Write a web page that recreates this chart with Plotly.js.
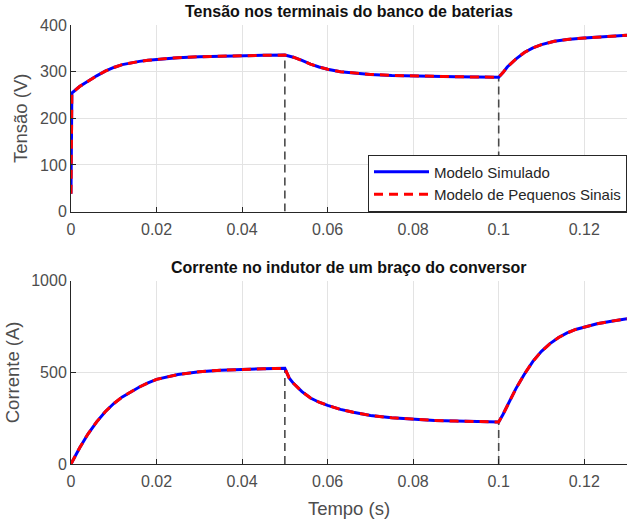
<!DOCTYPE html>
<html>
<head>
<meta charset="utf-8">
<script src="https://cdn.plot.ly/plotly-3.0.1.min.js"></script>
<style>html,body{margin:0;padding:0;background:#fff;overflow:hidden}#chart{width:627px;height:525px}</style>
</head>
<body>
<div id="chart"></div>
<script>
// ---- Data ----
const tV = [0, 0.0002, 0.002, 0.004, 0.006, 0.008, 0.010, 0.012, 0.014, 0.016, 0.018, 0.020, 0.025, 0.030, 0.035, 0.040, 0.045, 0.050,
            0.052, 0.054, 0.056, 0.058, 0.060, 0.063, 0.066, 0.070, 0.075, 0.080, 0.085, 0.090, 0.095, 0.100,
            0.101, 0.102, 0.104, 0.106, 0.108, 0.110, 0.113, 0.116, 0.120, 0.125, 0.130];
const tensao = [38, 254, 268, 280, 291, 301, 309, 315, 319, 322, 324.5, 326.5, 330, 332, 333.5, 334.5, 335, 335.5,
                331, 324, 316, 310, 305, 300, 297, 294, 292, 290.5, 289.5, 289, 288.5, 288,
                298, 310, 327, 341, 351, 358, 365, 369, 372, 375.5, 378];

const tI = [0, 0.002, 0.004, 0.006, 0.008, 0.010, 0.012, 0.014, 0.016, 0.018, 0.020, 0.025, 0.030, 0.035, 0.040, 0.045, 0.050,
            0.051, 0.052, 0.054, 0.056, 0.058, 0.060, 0.063, 0.066, 0.070, 0.075, 0.080, 0.085, 0.090, 0.095, 0.100,
            0.101, 0.102, 0.103, 0.104, 0.106, 0.108, 0.110, 0.112, 0.114, 0.116, 0.118, 0.120, 0.123, 0.126, 0.130];
const corrente = [0, 87, 165, 230, 285, 330, 366, 395, 420, 442, 462, 488, 503, 512, 517, 520, 522,
                  470, 440, 395, 360, 337, 320, 298, 282, 265, 252, 244, 238, 234, 231, 229,
                  270, 315, 362, 410, 490, 560, 615, 657, 690, 715, 734, 748, 765, 778, 792];

const eventTimes = [0.05, 0.1];
const xTicks = [0, 0.02, 0.04, 0.06, 0.08, 0.1, 0.12];
const xTickLabels = ['0', '0.02', '0.04', '0.06', '0.08', '0.1', '0.12'];
const vTicks = [0, 100, 200, 300, 400];
const iTicks = [0, 500, 1000];
const seriesNames = ['Modelo Simulado', 'Modelo de Pequenos Sinais'];
const titles = ['Tensão nos terminais do banco de baterias', 'Corrente no indutor de um braço do conversor'];

// ---- Build ----
function valueAt(ts, vs, t) {
  const i = ts.indexOf(t);
  return vs[i];
}
const FONT = 'Liberation Sans, Arial, Helvetica, sans-serif';
const DARK = '#262626';
const TICKC = '#4d4d4d';
const traces = [];
function addEvents(ts, vs, xa, ya) {
  eventTimes.forEach(t => {
    traces.push({x: [t, t], y: [0, valueAt(ts, vs, t)], xaxis: xa, yaxis: ya, mode: 'lines',
      line: {color: '#4a4a4a', width: 1.6, dash: '8px,5px'}, showlegend: false, hoverinfo: 'skip'});
  });
}
addEvents(tV, tensao, 'x', 'y');
addEvents(tI, corrente, 'x2', 'y2');
traces.push({x: tV, y: tensao, xaxis: 'x', yaxis: 'y', mode: 'lines', name: seriesNames[0],
  line: {color: '#0000ff', width: 3}, legendgroup: 'a'});
traces.push({x: tV, y: tensao, xaxis: 'x', yaxis: 'y', mode: 'lines', name: seriesNames[1],
  line: {color: '#ff0000', width: 3, dash: '9px,6px'}, legendgroup: 'b'});
traces.push({x: tI, y: corrente, xaxis: 'x2', yaxis: 'y2', mode: 'lines', name: seriesNames[0],
  line: {color: '#0000ff', width: 3}, showlegend: false});
traces.push({x: tI, y: corrente, xaxis: 'x2', yaxis: 'y2', mode: 'lines', name: seriesNames[1],
  line: {color: '#ff0000', width: 3, dash: '9px,6px'}, showlegend: false});

const xBase = {
  range: [0, 0.13], tickvals: xTicks, ticktext: xTickLabels, ticks: 'inside', ticklen: 5, tickcolor: DARK,
  showline: true, linecolor: DARK, linewidth: 1, showgrid: true, gridcolor: '#e3e3e3', gridwidth: 1,
  zeroline: false, tickfont: {family: FONT, size: 16, color: TICKC}, fixedrange: true, ticklabelstandoff: 3
};
const yBase = {
  ticks: 'inside', ticklen: 5, tickcolor: DARK, showline: true, linecolor: DARK, linewidth: 1,
  showgrid: true, gridcolor: '#e3e3e3', gridwidth: 1, zeroline: false,
  tickfont: {family: FONT, size: 16, color: TICKC}, fixedrange: true
};

const layout = {
  width: 627, height: 525,
  margin: {l: 71, r: 0, t: 25, b: 60.5},
  paper_bgcolor: '#fff', plot_bgcolor: '#fff',
  font: {family: FONT, color: DARK},
  xaxis: Object.assign({}, xBase, {anchor: 'y', domain: [0, 1]}),
  yaxis: Object.assign({}, yBase, {anchor: 'x', domain: [0.575, 1], range: [0, 400], tickvals: vTicks,
    title: {text: 'Tensão (V)', font: {family: FONT, size: 18.5, color: TICKC}, standoff: 7}}),
  xaxis2: Object.assign({}, xBase, {anchor: 'y2', domain: [0, 1],
    title: {text: 'Tempo (s)', font: {family: FONT, size: 18.5, color: TICKC}, standoff: 12}}),
  yaxis2: Object.assign({}, yBase, {anchor: 'x2', domain: [0, 0.4175], range: [0, 1000], tickvals: iTicks,
    title: {text: 'Corrente (A)', font: {family: FONT, size: 18.5, color: TICKC}, standoff: 6}}),
  legend: {x: 1, xanchor: 'right', y: 0.575, yanchor: 'bottom', bgcolor: '#fff', bordercolor: DARK, borderwidth: 1,
    font: {family: FONT, size: 15, color: DARK}, tracegroupgap: 0, itemwidth: 55},
  annotations: [
    {text: '<b>' + titles[0] + '</b>', xref: 'paper', yref: 'paper', x: 0.5, y: 1, yanchor: 'bottom', yshift: 3,
      showarrow: false, font: {family: FONT, size: 16, color: '#111'}},
    {text: '<b>' + titles[1] + '</b>', xref: 'paper', yref: 'paper', x: 0.5, y: 0.4175, yanchor: 'bottom', yshift: 3,
      showarrow: false, font: {family: FONT, size: 16, color: '#111'}}
  ],
  showlegend: true
};
Plotly.newPlot('chart', traces, layout, {displayModeBar: false, staticPlot: true});
</script>
</body>
</html>
